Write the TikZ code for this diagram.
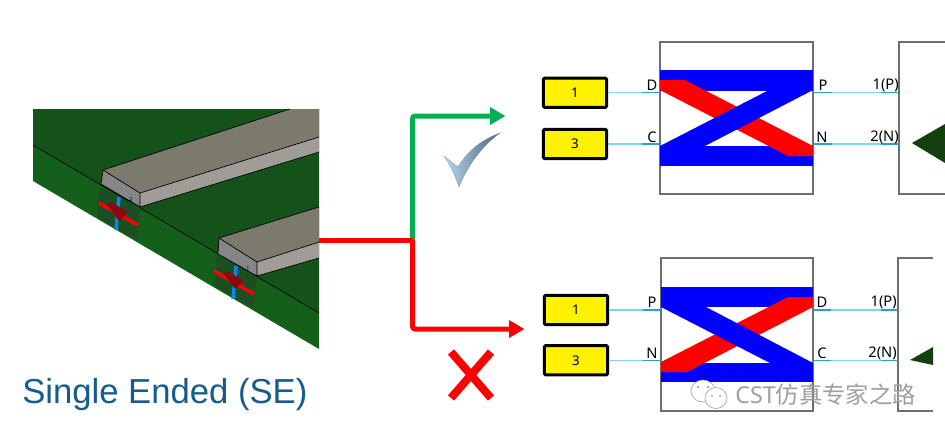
\documentclass[tikz,border=0pt]{standalone}
\usepackage{fontspec}
\setmainfont{Noto Sans}
\newfontfamily\titlefont{Liberation Sans}
\newfontfamily\cjkfont{Noto Sans CJK SC}
\usetikzlibrary{arrows.meta, positioning, calc}
\definecolor{BoardTop}{RGB}{21, 82, 25}
\definecolor{BoardFront}{RGB}{20, 96, 26}
\definecolor{PortPatch}{RGB}{28, 78, 36}
\definecolor{StripTop}{RGB}{123, 122, 108}
\definecolor{StripSide}{RGB}{160, 156, 152}
\definecolor{StripFront}{RGB}{134, 134, 134}
\definecolor{PortRed}{RGB}{140, 8, 16}
\definecolor{PortBlue}{RGB}{0, 140, 235}
\definecolor{WireBlue}{RGB}{125, 210, 245}
\definecolor{StubBlue}{RGB}{40, 160, 210}
\definecolor{BlockGray}{RGB}{110, 110, 110}
\definecolor{LoadGreen}{RGB}{20, 64, 15}
\definecolor{ArrowGreen}{RGB}{0, 176, 80}
\definecolor{TitleBlue}{RGB}{20, 92, 140}
\definecolor{CheckLight}{RGB}{185, 215, 235}
\definecolor{CheckDark}{RGB}{70, 100, 130}
\begin{document}
\begin{tikzpicture}[
    x=0.75pt, y=-0.75pt,
    portbox/.style={
        draw=black,
        fill=yellow,
        rounded corners=1pt,
        line width=2.25pt,
        minimum width=47.5pt,
        minimum height=22pt,
        inner sep=0pt,
        font=\fontsize{10}{10}\selectfont
    },
    block/.style={draw=BlockGray, line width=0.9pt, fill=white},
    load/.style={draw=BlockGray, line width=0.9pt},
    wire/.style={draw=WireBlue, line width=1.1pt},
    stub/.style={draw=StubBlue, line width=1.1pt},
    pinlabel/.style={inner sep=0pt, font=\fontsize{11}{11}\selectfont},
    flowred/.style={->, draw=red, line width=3.75pt, rounded corners=2pt},
    flowgreen/.style={->, draw=ArrowGreen, line width=3.75pt, rounded corners=2pt},
    >={Triangle[length=11.5pt, width=12.5pt]}
]
\useasboundingbox (0,0) rectangle (945,437);

% board
\fill[BoardTop] (33,109) -- (319,109) -- (319,313) -- (33,145) -- cycle;
\fill[BoardFront] (33,145) -- (319,313) -- (319,349) -- (33,181) -- cycle;
\draw[black, line width=0.5pt] (33,145) -- (319,313);

% port 2
\fill[PortPatch] (99,187) -- (140,207) -- (137,240) -- (97,217) -- cycle;
\fill[StripFront] (103,170) -- (140,193) -- (140,207) -- (101,184) -- cycle;
\fill[StripTop] (103,170) -- (290,109) -- (319,109) -- (319,137) -- (140,193) -- cycle;
\fill[StripSide] (140,193) -- (319,137) -- (319,152) -- (140,207) -- cycle;
\draw[black, line width=0.5pt] (290,109) -- (103,170) -- (140,193) -- (319,137)
    (103,170) -- (101,184) -- (140,207) -- (319,152) (140,193) -- (140,207);
\draw[PortBlue, line width=2.6pt] (119,197) -- (116,230);
\draw[red, line width=2.6pt] (99,203) -- (138,225);
\fill[PortRed] (107,205) -- (111,202) -- (128,212) -- (119,221) -- cycle;
\node[inner sep=0pt, font=\fontsize{4}{4}\selectfont] (labelTwo) at (131,200) {2};

% port 1
\fill[PortPatch] (217,255) -- (257,277) -- (253,308) -- (215,287) -- cycle;
\fill[StripFront] (219,238) -- (257,262) -- (257,276) -- (218,254) -- cycle;
\fill[StripTop] (219,238) -- (319,207) -- (319,242) -- (257,262) -- cycle;
\fill[StripSide] (257,262) -- (319,242) -- (319,258) -- (257,276) -- cycle;
\draw[black, line width=0.5pt] (319,207) -- (219,238) -- (257,262) -- (319,242)
    (219,238) -- (218,254) -- (257,276) -- (319,258) (257,262) -- (257,276);
\draw[PortBlue, line width=2.6pt] (236,266) -- (233,299);
\draw[red, line width=2.6pt] (214,271) -- (254,294);
\fill[PortRed] (224,274) -- (228,271) -- (244,281) -- (235,289) -- cycle;
\node[inner sep=0pt, font=\fontsize{4}{4}\selectfont] (labelOne) at (248,269) {1};

\node[anchor=base west, inner sep=0pt, text=TitleBlue, font=\titlefont\fontsize{26}{26}\selectfont] (title) at (22,403) {Single Ended (SE)};

% arrows
\coordinate (boardEdge) at (319,240);
\coordinate (splitFlow) at (412.5,240);
\coordinate (targetTop) at (505.5,116);
\coordinate (targetBot) at (524.5,329);
\draw[flowgreen] (splitFlow) |- (targetTop);
\draw[flowred] (splitFlow) |- (targetBot);
\draw[draw=red, line width=3.75pt] (boardEdge) -- (splitFlow);

\shade[left color=CheckLight, right color=CheckDark, draw=CheckDark!70, line width=0.2pt]
    (444,156) -- (458,167) .. controls (468,150) and (483,139) .. (500,133)
    .. controls (482,146) and (468,165) .. (459,187) .. controls (455,175) and (450,165) .. (444,156) -- cycle;

\draw[red, line width=6pt] (451,352) -- (491,398);
\draw[red, line width=6pt] (491,352) -- (451,398);

% top schematic
\node[portbox] (srcOneA) at (575,92.7) {1};
\node[portbox] (srcThreeA) at (575,144) {3};
\draw[block] (660,42) rectangle (813,194);
\coordinate (blockAin) at (660,92.7);
\coordinate (blockBin) at (660,144);
\coordinate (loadAp) at (899,92.7);
\coordinate (loadAn) at (899,144);
\draw[load] (945,42) -- (899,42) -- (899,194) -- (945,194);
\draw[wire] (srcOneA.east) -- (blockAin);
\draw[wire] (srcThreeA.east) -- (blockBin);
\draw[wire] (813,92.7) -- (loadAp);
\draw[wire] (813,144) -- (loadAn);
\draw[stub] (642,92.7) -- (660,92.7) (813,92.7) -- (832,92.7) (881,92.7) -- (899,92.7);
\draw[stub] (642,144) -- (660,144) (813,144) -- (832,144) (881,144) -- (899,144);
\fill[blue] (660,70) rectangle (813,91);
\fill[blue] (660,146) rectangle (813,166);
\fill[red] (660,80) -- (685,80) -- (813,146) -- (813,156) -- (788,156) -- (660,90) -- cycle;
\fill[blue] (660,146) -- (769,90) -- (813,90) -- (705,146) -- cycle;
\node[pinlabel] (pinDa) at (652,85) {D};
\node[pinlabel] (pinCa) at (652,137) {C};
\node[pinlabel] (pinPa) at (823,85) {P};
\node[pinlabel] (pinNa) at (822,137) {N};
\node[pinlabel, anchor=east] (pinOnea) at (899,85) {1(P)};
\node[pinlabel, anchor=east] (pinTwoa) at (899,137) {2(N)};
\fill[LoadGreen] (912,143) -- (945,124) -- (945,163) -- cycle;

% bottom schematic
\node[portbox] (srcOneB) at (576,310) {1};
\node[portbox] (srcThreeB) at (576,360.3) {3};
\draw[block] (661,258) rectangle (813,411);
\coordinate (blockCin) at (661,310);
\coordinate (blockDin) at (661,360.3);
\coordinate (loadBp) at (898,310);
\coordinate (loadBn) at (898,360.3);
\draw[load] (933,258) -- (898,258) -- (898,411) -- (933,411);
\draw[wire] (srcOneB.east) -- (blockCin);
\draw[wire] (srcThreeB.east) -- (blockDin);
\draw[wire] (813,310) -- (loadBp);
\draw[wire] (813,360.3) -- (loadBn);
\draw[stub] (643,310) -- (661,310) (813,310) -- (831,310) (881,310) -- (898,310);
\draw[stub] (643,360.3) -- (661,360.3) (813,360.3) -- (831,360.3) (881,360.3) -- (898,360.3);
\fill[blue] (661,287) rectangle (813,307);
\fill[blue] (661,363) rectangle (813,382);
\fill[red] (661,362) -- (788,297) -- (813,297) -- (813,307) -- (687,372) -- (661,372) -- cycle;
\fill[blue] (661,307) -- (706,307) -- (813,363) -- (770,363) -- cycle;
\node[pinlabel] (pinPb) at (652,302) {P};
\node[pinlabel] (pinNb) at (652,353) {N};
\node[pinlabel] (pinDb) at (822,302) {D};
\node[pinlabel] (pinCb) at (822,353) {C};
\node[pinlabel, anchor=east] (pinOneb) at (897,302) {1(P)};
\node[pinlabel, anchor=east] (pinTwob) at (897,353) {2(N)};
\fill[LoadGreen] (910,360) -- (933,347) -- (933,365) -- cycle;

% watermark
\draw[gray!70, fill=white, line width=0.5pt] (703,391) ellipse (12 and 11);
\draw[gray!70, fill=white, line width=0.5pt] (716,398) ellipse (11 and 10.5);
\fill[gray!70] (698,387) circle (1.3) (708,387) circle (1.3) (712,396) circle (1.2) (720,396) circle (1.2);
\node[anchor=west, inner sep=0pt, text=gray!75, font=\fontsize{17.5}{17.5}\selectfont] (watermark) at (735,395) {CST{\cjkfont 仿真专家之路}};
\end{tikzpicture}
\end{document}
